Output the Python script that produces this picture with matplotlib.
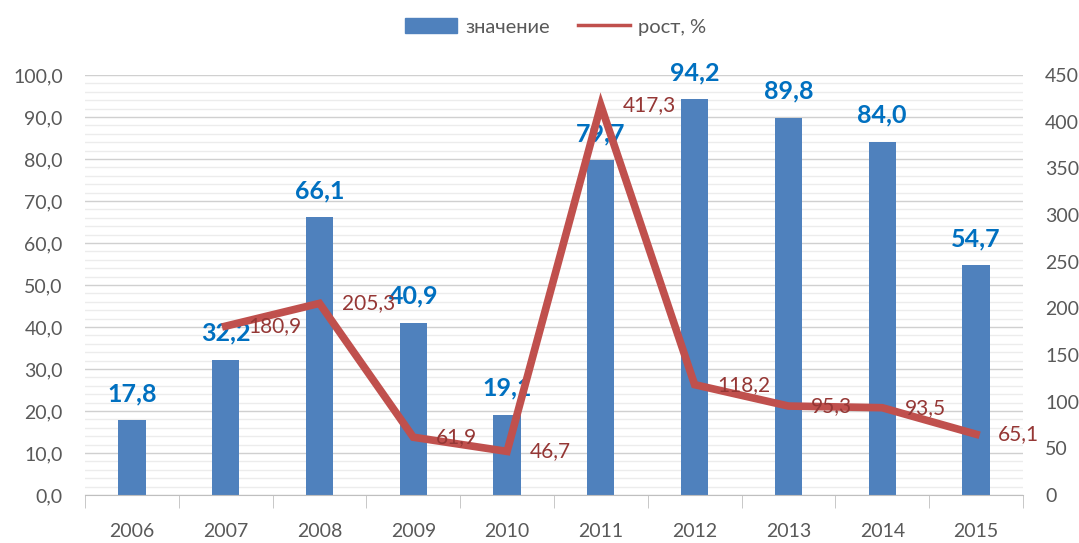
import matplotlib.pyplot as plt
from matplotlib.ticker import MultipleLocator, FuncFormatter
from matplotlib.lines import Line2D
from matplotlib.patches import Patch

plt.rcParams['font.family'] = ['Lato', 'DejaVu Sans']

years = ['2006', '2007', '2008', '2009', '2010', '2011', '2012', '2013', '2014', '2015']
values = [17.8, 32.2, 66.1, 40.9, 19.1, 79.7, 94.2, 89.8, 84.0, 54.7]
growth_years = years[1:]
growth = [180.9, 205.3, 61.9, 46.7, 417.3, 118.2, 95.3, 93.5, 65.1]

bar_color = '#4F81BD'
line_color = '#C0504D'
gray = '#595959'

def comma(v, dec=1):
    return f'{v:.{dec}f}'.replace('.', ',')

fig = plt.figure(figsize=(10.79, 5.43), dpi=100)
ax = fig.add_axes([0.0788, 0.0884, 0.8692, 0.7736])
ax2 = ax.twinx()

x = list(range(len(years)))
ax.bar(x, values, width=0.29, color=bar_color, zorder=2)
ax.set_xlim(-0.5, len(years) - 0.5)
ax.set_ylim(0, 100)
ax.yaxis.set_major_locator(MultipleLocator(10))
ax.yaxis.set_minor_locator(MultipleLocator(2))
ax.yaxis.set_major_formatter(FuncFormatter(lambda v, p: comma(v)))
ax.grid(axis='y', which='major', color='#D0D0D0', lw=1, zorder=0)
ax.grid(axis='y', which='minor', color='#ECECEC', lw=1, zorder=0)
ax.set_axisbelow(True)

ax.set_xticks(x)
ax.set_xticklabels(years)
ax.set_xticks([i - 0.5 for i in range(len(years) + 1)], minor=True)
ax.tick_params(axis='x', which='major', length=0, pad=20, labelsize=14, labelcolor=gray)
ax.tick_params(axis='x', which='minor', length=9, color='#BFBFBF')
ax.tick_params(axis='y', which='both', length=0, labelsize=14, labelcolor=gray, pad=16)

for s in ['top', 'left', 'right']:
    ax.spines[s].set_visible(False)
    ax2.spines[s].set_visible(False)
ax.spines['bottom'].set_color('#BFBFBF')
ax2.spines['bottom'].set_visible(False)

for xi, v in zip(x, values):
    ax.annotate(comma(v), (xi, v), xytext=(0, 11), textcoords='offset points',
                ha='center', va='bottom', color='#0070C0', fontsize=18, fontweight='bold')

gx = [years.index(y) for y in growth_years]
ax2.plot(gx, growth, color=line_color, lw=5.5, zorder=3, solid_joinstyle='miter')
ax2.set_ylim(0, 450)
ax2.yaxis.set_major_locator(MultipleLocator(50))
ax2.tick_params(axis='y', length=0, labelsize=14, labelcolor=gray, pad=16)
for xi, g in zip(gx, growth):
    ax2.annotate(comma(g), (xi, g), xytext=(16, 0), textcoords='offset points',
                 ha='left', va='center', color='#953735', fontsize=15)

handles = [Patch(color=bar_color), Line2D([0], [0], color=line_color, lw=2.5)]
fig.legend(handles, ['значение', 'рост, %'], loc='upper center', bbox_to_anchor=(0.515, 1.0),
           ncol=2, frameon=False, fontsize=14.5, labelcolor=gray, columnspacing=1.4,
           handlelength=2.6, handleheight=0.75, handletextpad=0.4)

fig.savefig('out.png', dpi=100)
